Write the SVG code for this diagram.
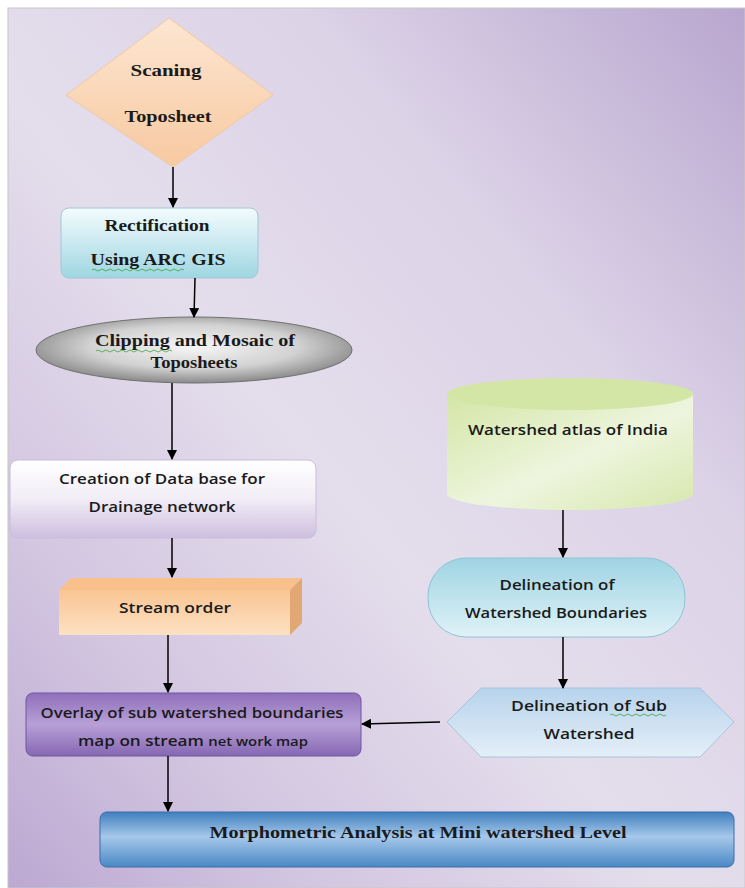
<svg xmlns="http://www.w3.org/2000/svg" width="745" height="888" viewBox="0 0 745 888">
<defs>
<linearGradient id="bg" x1="1" y1="0" x2="0" y2="1">
<stop offset="0" stop-color="#b9a6cf"/>
<stop offset="0.3" stop-color="#dcd3e7"/>
<stop offset="0.55" stop-color="#e4deec"/>
<stop offset="0.8" stop-color="#d2c5e0"/>
<stop offset="1" stop-color="#bca8d2"/>
</linearGradient>
<linearGradient id="gDiamond" x1="0" y1="0" x2="0" y2="1">
<stop offset="0" stop-color="#fde6d2"/>
<stop offset="1" stop-color="#f7c9a0"/>
</linearGradient>
<linearGradient id="gRect" x1="0" y1="0" x2="0" y2="1">
<stop offset="0" stop-color="#f4fcfe"/>
<stop offset="1" stop-color="#9fd6e2"/>
</linearGradient>
<radialGradient id="gEll" cx="0.5" cy="0.45" r="0.55">
<stop offset="0" stop-color="#f6f6f6"/>
<stop offset="0.6" stop-color="#d2d2d2"/>
<stop offset="1" stop-color="#8a8a8a"/>
</radialGradient>
<linearGradient id="gData" x1="0" y1="0" x2="0" y2="1">
<stop offset="0" stop-color="#ffffff"/>
<stop offset="0.5" stop-color="#f1edf6"/>
<stop offset="1" stop-color="#cdbfdf"/>
</linearGradient>
<linearGradient id="gStream" x1="0" y1="0" x2="0" y2="1">
<stop offset="0" stop-color="#f9c593"/>
<stop offset="1" stop-color="#fde1c3"/>
</linearGradient>
<linearGradient id="gOverlay" x1="0" y1="0" x2="0" y2="1">
<stop offset="0" stop-color="#8f6fbb"/>
<stop offset="0.5" stop-color="#b7a0d6"/>
<stop offset="1" stop-color="#8567b3"/>
</linearGradient>
<linearGradient id="gMorph" x1="0" y1="0" x2="0" y2="1">
<stop offset="0" stop-color="#3f7fbf"/>
<stop offset="0.45" stop-color="#a6c8ea"/>
<stop offset="1" stop-color="#4a88c6"/>
</linearGradient>
<linearGradient id="gCyl" x1="0" y1="0" x2="1" y2="1">
<stop offset="0" stop-color="#d3e6a6"/>
<stop offset="0.55" stop-color="#eef5de"/>
<stop offset="1" stop-color="#d6e8ad"/>
</linearGradient>
<linearGradient id="gPill" x1="0" y1="0" x2="0" y2="1">
<stop offset="0" stop-color="#9fd4e3"/>
<stop offset="1" stop-color="#dff2f7"/>
</linearGradient>
<linearGradient id="gHex" x1="0" y1="0" x2="0" y2="1">
<stop offset="0" stop-color="#b7d3ec"/>
<stop offset="1" stop-color="#e4eff8"/>
</linearGradient>
<marker id="arr" viewBox="0 0 10 10" refX="9" refY="5" markerWidth="10" markerHeight="10" markerUnits="userSpaceOnUse" orient="auto">
<path d="M0,0 L10,5 L0,10 z" fill="#000"/>
</marker>
</defs>
<style>
.serif{font-family:"Liberation Serif","Times New Roman",serif;font-weight:bold;font-size:17px;fill:#1a1a1a;text-anchor:middle}
.sans{font-family:"Open Sans","Liberation Sans",Arial,sans-serif;font-weight:600;font-size:15px;fill:#1a1a1a;text-anchor:middle}
.conn{stroke:#000;stroke-width:1.5;fill:none}
.wavy{stroke:#3aa53a;stroke-width:0.8;fill:none}
</style>
<rect x="0" y="0" width="745" height="888" fill="#ffffff"/>
<rect x="8" y="8" width="737" height="880" fill="url(#bg)" stroke="#c8c8c8" stroke-width="1"/>

<g id="scaning">
<polygon points="169,18 273,95 173,167 66,95" fill="url(#gDiamond)" stroke="#f0c8a0" stroke-width="1"/>
<text class="serif" x="166" y="76" textLength="71" lengthAdjust="spacingAndGlyphs">Scaning</text>
<text class="serif" x="168" y="122" textLength="87" lengthAdjust="spacingAndGlyphs">Toposheet</text>
</g>

<g id="rectification">
<rect x="61" y="208" width="197" height="70" rx="8" fill="url(#gRect)" stroke="#9ec8d4" stroke-width="1"/>
<text class="serif" x="157" y="231" textLength="105" lengthAdjust="spacingAndGlyphs">Rectification</text>
<text class="serif" x="158" y="265" textLength="135" lengthAdjust="spacingAndGlyphs">Using ARC GIS</text>
<path class="wavy" d="M92,270 q2,-2 4,0 t4,0 t4,0 t4,0 t4,0 t4,0 t4,0 t4,0 t4,0 t4,0 t4,0 t4,0 t4,0 t4,0 t4,0 t4,0 t4,0 t4,0 t4,0 t4,0 t4,0 t4,0 t4,0"/>
</g>

<g id="clipping">
<ellipse cx="194" cy="350" rx="158" ry="33" fill="url(#gEll)" stroke="#707070" stroke-width="1"/>
<text class="serif" x="195" y="346" textLength="200" lengthAdjust="spacingAndGlyphs">Clipping and Mosaic of</text>
<text class="serif" x="194" y="368" textLength="87" lengthAdjust="spacingAndGlyphs">Toposheets</text>
<path class="wavy" d="M96,351 q2,-2 4,0 t4,0 t4,0 t4,0 t4,0 t4,0 t4,0 t4,0 t4,0 t4,0 t4,0 t4,0 t4,0 t4,0 t4,0 t4,0 t4,0 t4,0 t4,0"/>
</g>

<g id="database">
<rect x="10" y="460" width="306" height="78" rx="8" fill="url(#gData)" stroke="#c9bcdc" stroke-width="1"/>
<text class="sans" x="162" y="484" textLength="206" lengthAdjust="spacingAndGlyphs">Creation of Data base for</text>
<text class="sans" x="162" y="512" textLength="147" lengthAdjust="spacingAndGlyphs">Drainage network</text>
</g>

<g id="streamorder">
<polygon points="59,590 71,578 302,578 290,590" fill="#f8c08a"/>
<polygon points="290,590 302,578 302,623 290,635" fill="#e2a873"/>
<rect x="59" y="590" width="231" height="45" fill="url(#gStream)"/>
<text class="sans" x="175" y="613" textLength="112" lengthAdjust="spacingAndGlyphs">Stream order</text>
</g>

<g id="overlay">
<rect x="26" y="693" width="335" height="63" rx="7" fill="url(#gOverlay)" stroke="#6f56a0" stroke-width="1"/>
<text class="sans" x="192" y="718" textLength="303" lengthAdjust="spacingAndGlyphs">Overlay of sub watershed boundaries</text>
<text class="sans" x="193" y="746" textLength="230" lengthAdjust="spacingAndGlyphs">map on stream <tspan font-size="13">net work map</tspan></text>
</g>

<g id="morphometric">
<rect x="100" y="812" width="634" height="55" rx="7" fill="url(#gMorph)" stroke="#3a6ea5" stroke-width="1"/>
<text class="serif" x="418" y="838" textLength="417" lengthAdjust="spacingAndGlyphs">Morphometric Analysis at Mini watershed Level</text>
</g>

<g id="atlas">
<path d="M447,394 L447,494 A123,16 0 0 0 693,494 L693,394 Z" fill="url(#gCyl)"/>
<ellipse cx="570" cy="394" rx="123" ry="16" fill="#d3e6a6"/>
<text class="sans" x="568" y="435" textLength="200" lengthAdjust="spacingAndGlyphs">Watershed atlas of India</text>
</g>

<g id="delineation">
<rect x="428" y="558" width="257" height="79" rx="38" fill="url(#gPill)" stroke="#8ec4d4" stroke-width="1"/>
<text class="sans" x="557" y="590" textLength="115" lengthAdjust="spacingAndGlyphs">Delineation of</text>
<text class="sans" x="556" y="618" textLength="182" lengthAdjust="spacingAndGlyphs">Watershed Boundaries</text>
</g>

<g id="subwatershed">
<polygon points="447,722 481,688 700,688 734,722 700,757 481,757" fill="url(#gHex)" stroke="#a8c4dc" stroke-width="1"/>
<text class="sans" x="589" y="711" textLength="156" lengthAdjust="spacingAndGlyphs">Delineation of Sub</text>
<text class="sans" x="589" y="739" textLength="91" lengthAdjust="spacingAndGlyphs">Watershed</text>
<path class="wavy" d="M610,715 q2,-2 4,0 t4,0 t4,0 t4,0 t4,0 t4,0 t4,0 t4,0 t4,0 t4,0 t4,0 t4,0 t4,0 t4,0"/>
</g>

<g id="connectors">
<line class="conn" x1="173" y1="167" x2="173" y2="207" marker-end="url(#arr)"/>
<line class="conn" x1="195" y1="278" x2="194" y2="317" stroke-width="2.2" marker-end="url(#arr)"/>
<line class="conn" x1="172" y1="383" x2="172" y2="459" marker-end="url(#arr)"/>
<line class="conn" x1="172" y1="538" x2="172" y2="577" marker-end="url(#arr)"/>
<line class="conn" x1="168" y1="635" x2="168" y2="692" marker-end="url(#arr)"/>
<line class="conn" x1="168" y1="756" x2="168" y2="811" marker-end="url(#arr)"/>
<line class="conn" x1="563" y1="510" x2="563" y2="557" marker-end="url(#arr)"/>
<line class="conn" x1="563" y1="637" x2="563" y2="688" marker-end="url(#arr)"/>
<line class="conn" x1="440" y1="722" x2="362" y2="724" stroke-width="2" marker-end="url(#arr)"/>
</g>
</svg>
